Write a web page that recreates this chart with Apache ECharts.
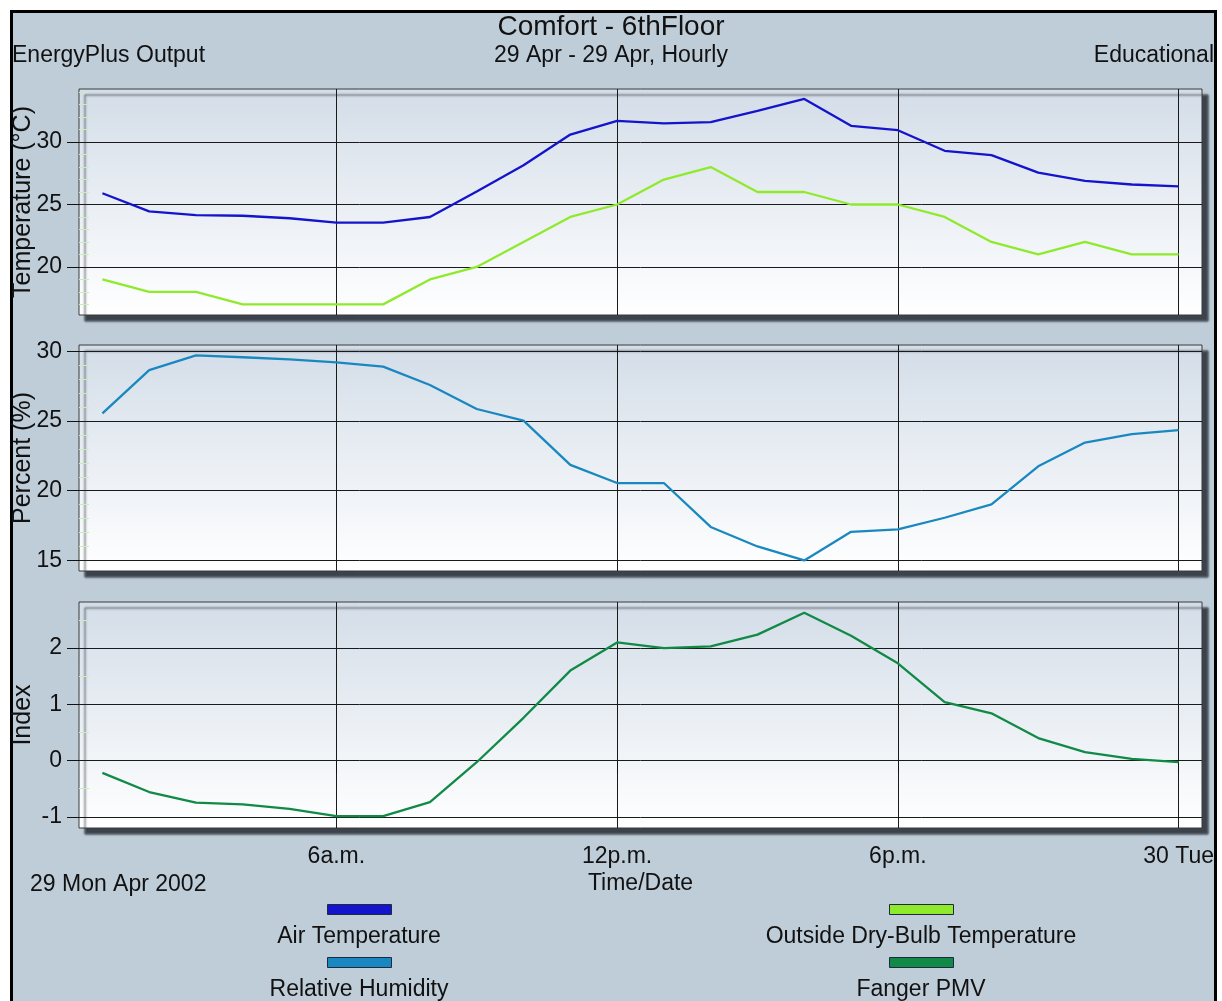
<!DOCTYPE html>
<html>
<head>
<meta charset="utf-8">
<title>Comfort - 6thFloor</title>
<script src="https://cdn.jsdelivr.net/npm/echarts@6/dist/echarts.min.js"></script>
<style>
  html, body { margin: 0; padding: 0; background: #ffffff; width: 1222px; height: 1001px; overflow: hidden; }
  #frame { position: absolute; left: 10px; top: 10px; width: 1201px; height: 1000px;
           border: 3px solid #000; border-bottom: none; background: #bfcdd9; }
  #chart { position: absolute; left: 0; top: 0; width: 1222px; height: 1001px; }
</style>
</head>
<body>
<div id="frame"></div>
<div id="chart"></div>
<script>
// Hourly timestamps (hour ending) for 29 Apr 2002
const hours = [1, 2, 3, 4, 5, 6, 7, 8, 9, 10, 11, 12, 13, 14, 15, 16, 17, 18, 19, 20, 21, 22, 23, 24];

// Zone air temperature (°C)
const airTemp = [25.9, 24.45, 24.15, 24.1, 23.9, 23.55, 23.55, 24.0, 26.05, 28.15, 30.6, 31.7,
                 31.5, 31.6, 32.5, 33.45, 31.3, 30.95, 29.3, 28.95, 27.55, 26.9, 26.6, 26.45];
// Outside dry-bulb temperature (°C)
const outsideTemp = [19, 18, 18, 17, 17, 17, 17, 19, 20, 22, 24, 25,
                     27, 28, 26, 26, 25, 25, 24, 22, 21, 22, 21, 21];
// Zone relative humidity (%)
const relHumidity = [25.55, 28.65, 29.7, 29.57, 29.42, 29.2, 28.9, 27.58, 25.86, 25.02, 21.85, 20.55,
                     20.55, 17.4, 16.0, 15.0, 17.05, 17.22, 18.06, 19.02, 21.75, 23.45, 24.05, 24.35];
// Fanger predicted mean vote
const fangerPMV = [-0.22, -0.56, -0.75, -0.78, -0.86, -0.99, -0.99, -0.74, -0.03, 0.76, 1.6, 2.1,
                   2.0, 2.03, 2.24, 2.63, 2.22, 1.73, 1.04, 0.84, 0.4, 0.15, 0.03, -0.03];

// Axis ticks
const xTickHours = [6, 12, 18, 24];
const xTickLabels = ['6a.m.', '12p.m.', '6p.m.', '30 Tue'];
const tempTicks = [20, 25, 30];
const rhTicks = [15, 20, 25, 30];
const pmvTicks = [-1, 0, 1, 2];
const tempMinorTicks = [17, 18, 19, 21, 22, 23, 24, 26, 27, 28, 29, 31, 32, 33, 34];
const rhMinorTicks = [16, 17, 18, 19, 21, 22, 23, 24, 26, 27, 28, 29];
const pmvMinorTicks = [-0.5, 0.5, 1.5, 2.5];

const seriesNames = ['Air Temperature', 'Outside Dry-Bulb Temperature', 'Relative Humidity', 'Fanger PMV'];
const seriesColors = ['#1414cc', '#8fea2c', '#1a88c0', '#108a46'];

const FONT = "'Liberation Sans', Arial, sans-serif";
const INK = '#111111';

const chart = echarts.init(document.getElementById('chart'), null, { renderer: 'canvas' });

const panelBg = new echarts.graphic.LinearGradient(0, 0, 0, 1, [
  { offset: 0, color: '#d3dde8' },
  { offset: 1, color: '#ffffff' }
]);

function gridAt(top) {
  return {
    left: 79, right: 20, top: top, height: 226, show: true,
    outerBoundsMode: 'none', containLabel: false,
    backgroundColor: panelBg, borderColor: '#3a3a3a', borderWidth: 1,
    shadowColor: 'rgba(45,52,60,0.9)', shadowBlur: 2, shadowOffsetX: 6, shadowOffsetY: 6
  };
}

function xAxisFor(gridIndex, withLabels) {
  return {
    type: 'value', gridIndex: gridIndex, min: 0.5, max: 24.5,
    axisLine: { show: false },
    axisTick: { show: withLabels, customValues: xTickHours, length: 13, lineStyle: { color: INK, width: 1 } },
    axisLabel: {
      show: withLabels, customValues: xTickHours, margin: 17,
      fontSize: 23, color: INK, fontFamily: FONT,
      formatter: function (v) { return xTickLabels[xTickHours.indexOf(v)]; }
    },
    splitLine: { show: true, lineStyle: { color: '#1a1a1a', width: 1 } },
    name: withLabels ? 'Time/Date' : '', nameLocation: 'middle', nameGap: 44, nameMoveOverlap: false,
    nameTextStyle: { fontSize: 23, color: INK, fontFamily: FONT }
  };
}

function yAxisFor(gridIndex, min, max, ticks, name) {
  return {
    type: 'value', gridIndex: gridIndex, position: 'left', min: min, max: max,
    axisLine: { show: false },
    axisTick: { show: true, customValues: ticks, length: 12, lineStyle: { color: INK, width: 1 } },
    axisLabel: { customValues: ticks, margin: 17, fontSize: 23, color: INK, fontFamily: FONT },
    splitLine: { show: true, lineStyle: { color: '#1a1a1a', width: 1 } },
    name: name, nameLocation: 'middle', nameRotate: 90, nameGap: 43, nameMoveOverlap: false,
    nameTextStyle: { fontSize: 25, color: INK, fontFamily: FONT }
  };
}

function minorAxisFor(gridIndex, min, max, ticks) {
  return {
    type: 'value', gridIndex: gridIndex, position: 'left', min: min, max: max,
    axisLine: { show: false }, axisLabel: { show: false }, splitLine: { show: false },
    axisTick: { show: true, inside: true, length: 10, customValues: ticks, lineStyle: { color: '#c8eebc', width: 1 } }
  };
}

function pairs(values) {
  return hours.map(function (h, i) { return [h, values[i]]; });
}

function lineSeries(idx, values, xi, yi) {
  return {
    type: 'line', name: seriesNames[idx], xAxisIndex: xi, yAxisIndex: yi,
    data: pairs(values), showSymbol: false, symbol: 'none',
    lineStyle: { color: seriesColors[idx], width: 2.3 }, itemStyle: { color: seriesColors[idx] },
    silent: true, animation: false, z: 5
  };
}

// Legend: swatch above each series name, two columns
const legendCols = [359, 921];
const legendRows = [904, 957];
const legendGraphics = [];
seriesNames.forEach(function (name, i) {
  const cx = legendCols[i % 2];
  const ry = legendRows[Math.floor(i / 2)];
  legendGraphics.push({
    type: 'rect', left: cx - 32, top: ry, shape: { width: 64, height: 10 },
    style: { fill: seriesColors[i], stroke: '#1e2a44', lineWidth: 1 }, z: 10
  });
  legendGraphics.push({
    type: 'text', x: cx, y: ry + 33,
    style: { text: name, fill: INK, font: '23px ' + FONT, textAlign: 'center', textVerticalAlign: 'middle' }, z: 10
  });
});

const titleStyle = { fontWeight: 'normal', color: INK, fontFamily: FONT };

chart.setOption({
  animation: false,
  textStyle: { fontFamily: FONT },
  title: [
    { text: 'Comfort - 6thFloor', left: 'center', top: 13, padding: 0, textStyle: Object.assign({ fontSize: 28 }, titleStyle) },
    { text: '29 Apr - 29 Apr, Hourly', left: 'center', top: 44, padding: 0, textStyle: Object.assign({ fontSize: 23 }, titleStyle) },
    { text: 'EnergyPlus Output', left: 12, top: 44, padding: 0, textStyle: Object.assign({ fontSize: 23 }, titleStyle) },
    { text: 'Educational', right: 8, top: 44, padding: 0, textStyle: Object.assign({ fontSize: 23 }, titleStyle) },
    { text: '29 Mon Apr 2002', left: 30, top: 873, padding: 0, textStyle: Object.assign({ fontSize: 23 }, titleStyle) }
  ],
  grid: [gridAt(89), gridAt(345), gridAt(602)],
  xAxis: [xAxisFor(0, false), xAxisFor(1, false), xAxisFor(2, true)],
  yAxis: [
    yAxisFor(0, 16.15, 34.25, tempTicks, 'Temperature (°C)'),
    yAxisFor(1, 14.24, 30.45, rhTicks, 'Percent (%)'),
    yAxisFor(2, -1.2, 2.82, pmvTicks, 'Index'),
    minorAxisFor(0, 16.15, 34.25, tempMinorTicks),
    minorAxisFor(1, 14.24, 30.45, rhMinorTicks),
    minorAxisFor(2, -1.2, 2.82, pmvMinorTicks)
  ],
  series: [
    lineSeries(0, airTemp, 0, 0),
    lineSeries(1, outsideTemp, 0, 0),
    lineSeries(2, relHumidity, 1, 1),
    lineSeries(3, fangerPMV, 2, 2)
  ],
  graphic: legendGraphics
});
</script>
</body>
</html>
